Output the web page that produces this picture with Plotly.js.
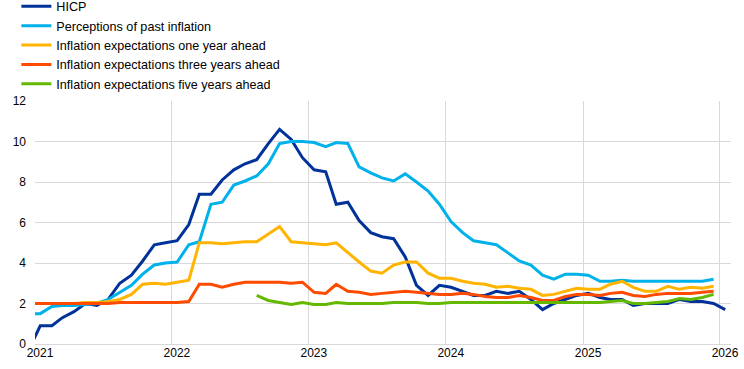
<!DOCTYPE html>
<html>
<head>
<meta charset="utf-8">
<script src="https://cdn.plot.ly/plotly-3.0.1.min.js"></script>
<style>
  html, body { margin: 0; padding: 0; background: #fff; }
  #chart { width: 744px; height: 369px; }
</style>
</head>
<body>
<div id="chart"></div>
<script>
// Monthly observations, Dec 2020 .. Jan 2026 (plotted mid-month)
const startYear = 2020, startMonth = 12, monthCount = 62;
const months = [];
for (let k = 0; k < monthCount; k++) {
  const m0 = (startMonth - 1 + k);
  const y = startYear + Math.floor(m0 / 12);
  const m = (m0 % 12) + 1;
  months.push(y + '-' + String(m).padStart(2, '0') + '-15');
}

const seriesNames = [
  'HICP',
  'Perceptions of past inflation',
  'Inflation expectations one year ahead',
  'Inflation expectations three years ahead',
  'Inflation expectations five years ahead'
];

// Dec 2020 .. Jan 2026
const hicp = [
  -0.3,
  0.9, 0.9, 1.3, 1.6, 2.0, 1.9, 2.2, 3.0, 3.4, 4.1, 4.9, 5.0,
  5.1, 5.9, 7.4, 7.4, 8.1, 8.6, 8.9, 9.1, 9.9, 10.6, 10.1, 9.2,
  8.6, 8.5, 6.9, 7.0, 6.1, 5.5, 5.3, 5.2, 4.3, 2.9, 2.4, 2.9,
  2.8, 2.6, 2.4, 2.4, 2.6, 2.5, 2.6, 2.2, 1.7, 2.0, 2.2, 2.4,
  2.5, 2.3, 2.2, 2.2, 1.9, 2.0, 2.0, 2.0, 2.2, 2.1, 2.1, 2.0,
  1.7
];

// Dec 2020 .. Dec 2025
const perceptions = [
  1.5,
  1.5, 1.85, 1.9, 1.9, 1.95, 2.0, 2.2, 2.55, 2.9, 3.45, 3.9, 4.0,
  4.05, 4.9, 5.05, 6.9, 7.0, 7.85, 8.05, 8.3, 8.9, 9.9, 10.0, 10.0,
  9.95, 9.75, 9.95, 9.9, 8.75, 8.45, 8.2, 8.05, 8.4, 8.0, 7.55, 6.9,
  6.05, 5.5, 5.1, 5.0, 4.9, 4.5, 4.1, 3.9, 3.4, 3.2, 3.45, 3.45,
  3.4, 3.1, 3.1, 3.15, 3.1, 3.1, 3.1, 3.1, 3.1, 3.1, 3.1, 3.2
];

const oneYear = [
  2.0,
  2.0, 2.0, 2.0, 2.0, 2.05, 2.05, 2.1, 2.2, 2.45, 2.95, 3.0, 2.95,
  3.05, 3.15, 5.0, 5.0, 4.95, 5.0, 5.05, 5.05, 5.45, 5.8, 5.05, 5.0,
  4.95, 4.9, 5.0, 4.5, 4.05, 3.6, 3.5, 3.9, 4.05, 4.05, 3.5, 3.25,
  3.25, 3.1, 3.0, 2.95, 2.8, 2.85, 2.75, 2.7, 2.4, 2.45, 2.6, 2.75,
  2.7, 2.7, 2.95, 3.1, 2.8, 2.6, 2.6, 2.85, 2.7, 2.8, 2.75, 2.85
];

const threeYears = [
  2.0,
  2.0, 2.0, 2.0, 2.0, 2.0, 2.0, 2.0, 2.05, 2.05, 2.05, 2.05, 2.05,
  2.05, 2.1, 2.95, 2.95, 2.8, 2.95, 3.05, 3.05, 3.05, 3.05, 3.0, 3.05,
  2.55, 2.5, 2.95, 2.6, 2.55, 2.45, 2.5, 2.55, 2.6, 2.55, 2.5, 2.45,
  2.45, 2.5, 2.45, 2.35, 2.3, 2.3, 2.4, 2.3, 2.15, 2.15, 2.35, 2.45,
  2.45, 2.4, 2.5, 2.55, 2.4, 2.35, 2.45, 2.5, 2.5, 2.5, 2.55, 2.6
];

// starts Aug 2022
const fiveYears = [
  null,
  null, null, null, null, null, null, null, null, null, null, null, null,
  null, null, null, null, null, null, null, 2.4, 2.15, 2.05, 1.95, 2.05,
  1.95, 1.95, 2.05, 2.0, 2.0, 2.0, 2.0, 2.05, 2.05, 2.05, 2.0, 2.0,
  2.05, 2.05, 2.05, 2.05, 2.05, 2.05, 2.05, 2.05, 2.05, 2.05, 2.05, 2.05,
  2.05, 2.05, 2.1, 2.15, 2.0, 2.0, 2.05, 2.1, 2.25, 2.2, 2.3, 2.45
];

const seriesValues = [hicp, perceptions, oneYear, threeYears, fiveYears];
const seriesColors = ['#003299', '#00B1EA', '#FFB400', '#FF4B00', '#65B800'];

const yTickVals = [0, 2, 4, 6, 8, 10, 12];
const xTickVals = ['2021-01-01', '2022-01-01', '2023-01-01', '2024-01-01', '2025-01-01', '2026-01-01'];
const xTickText = ['2021', '2022', '2023', '2024', '2025', '2026'];

const traces = seriesValues.map((vals, i) => ({
  type: 'scatter',
  mode: 'lines',
  name: seriesNames[i],
  x: months.slice(0, vals.length),
  y: vals,
  line: { color: seriesColors[i], width: 3 },
  connectgaps: false,
  hoverinfo: 'skip'
}));

const font = { family: 'Arial, "Liberation Sans", sans-serif', size: 12, color: '#000' };
const legendFont = { family: 'Arial, "Liberation Sans", sans-serif', size: 12.6, color: '#000' };

const layout = {
  width: 744,
  height: 369,
  margin: { l: 35, r: 13, t: 101, b: 25, autoexpand: false },
  paper_bgcolor: '#fff',
  plot_bgcolor: '#fff',
  font: font,
  showlegend: true,
  legend: {
    xref: 'container', yref: 'paper',
    x: 0.022, y: 1.45, xanchor: 'left', yanchor: 'top',
    bgcolor: 'rgba(0,0,0,0)',
    font: legendFont,
    traceorder: 'normal'
  },
  xaxis: {
    type: 'date',
    range: ['2021-01-01', '2026-01-30 10:00'],
    tickvals: xTickVals,
    ticktext: xTickText,
    ticklabelshift: 5,
    showgrid: true,
    gridcolor: '#d9d9d9',
    gridwidth: 1,
    showline: false,
    zeroline: false,
    ticks: '',
    tickfont: font,
    fixedrange: true
  },
  yaxis: {
    range: [0, 12],
    tickvals: yTickVals,
    showgrid: true,
    gridcolor: '#d9d9d9',
    gridwidth: 1,
    zeroline: true,
    zerolinecolor: '#d9d9d9',
    zerolinewidth: 1,
    showline: false,
    ticks: '',
    ticklabelstandoff: 8,
    tickfont: font,
    fixedrange: true
  }
};

Plotly.newPlot('chart', traces, layout, { displayModeBar: false, staticPlot: true });
</script>
</body>
</html>
